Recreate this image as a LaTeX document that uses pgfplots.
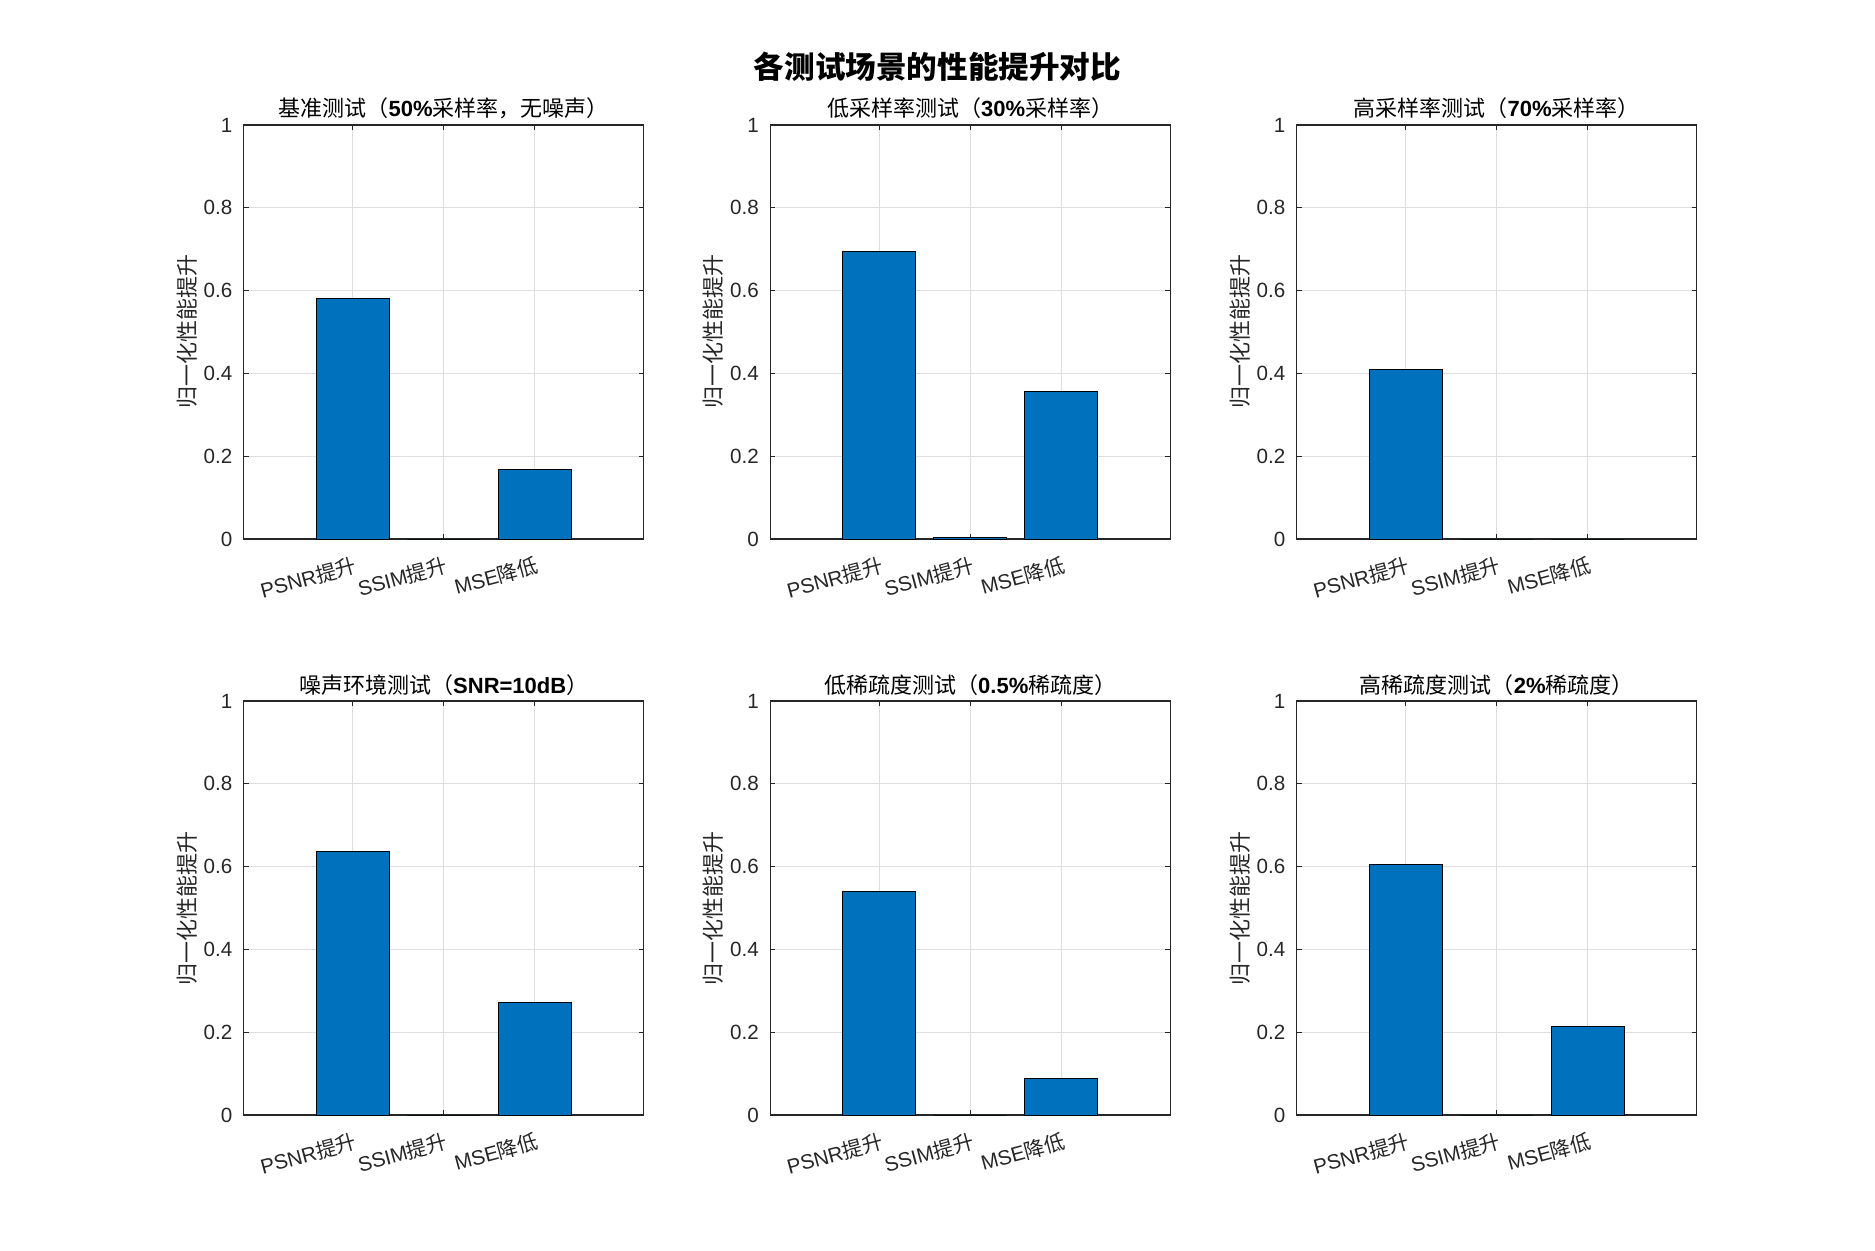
\documentclass[border=0pt]{standalone}
\usepackage{fontspec}
\setmainfont{Liberation Sans}
\newfontfamily\cjk{Noto Sans CJK SC}
\usepackage{pgfplots}
\pgfplotsset{compat=1.18}
\definecolor{matblue}{RGB}{0,114,189}
\definecolor{axgray}{RGB}{38,38,38}
\definecolor{gridgray}{RGB}{222,222,222}
\pgfplotsset{
  every axis title shift=0pt,
  sub/.style={
    scale only axis, width=200pt, height=207pt, anchor=south west,
    ybar, bar width=0.8,
    xmin=-0.2, xmax=4.2, ymin=0, ymax=1,
    xtick={1,2,3},
    xticklabels={{PSNR{\cjk 提升}},{SSIM{\cjk 提升}},{MSE{\cjk 降低}}},
    ytick={0,0.2,0.4,0.6,0.8,1},
    /pgf/number format/assume math mode=true,
    tick align=inside, tick pos=both,
    major tick length=2.5pt,
    tick style={axgray, line width=0.6pt},
    axis line style={axgray, line width=0.6pt},
    grid=major,
    major grid style={gridgray, line width=0.6pt},
    ticklabel style={font=\fontsize{10.3}{12}\selectfont, text=axgray},
    yticklabel style={xshift=-2.2pt},
    xticklabel style={yshift=-13pt, xshift=1.7pt, rotate=15, anchor=east, inner sep=0pt},
    ylabel={\cjk 归一化性能提升},
    ylabel style={at={(axis description cs:-0.142,0.5)}, anchor=center, font=\fontsize{11}{13}\selectfont, text=axgray},
    title style={at={(axis description cs:0.5,1)}, anchor=base, yshift=4pt, font=\fontsize{11}{13}\selectfont, text=black, inner sep=0pt},
  },
  bars/.style={fill=matblue, draw=black, line width=0.5pt},
}
\begin{document}
\begin{tikzpicture}
\path[use as bounding box] (0,0) rectangle (937.5pt,625pt);
\node[anchor=base, font=\fontsize{15.3}{18}\selectfont\cjk\bfseries] at (468.75pt,585.5pt) {各测试场景的性能提升对比};

\begin{axis}[sub, at={(121.875pt,355.5pt)},
  title={{\cjk 基准测试（}\textbf{50\%}{\cjk 采样率，无噪声）}}]
\addplot[bars] coordinates {(1,0.581) (2,0) (3,0.169)};
\end{axis}

\begin{axis}[sub, at={(385.125pt,355.5pt)},
  title={{\cjk 低采样率测试（}\textbf{30\%}{\cjk 采样率）}}]
\addplot[bars] coordinates {(1,0.694) (2,0.0026) (3,0.357)};
\end{axis}

\begin{axis}[sub, at={(648.375pt,355.5pt)},
  title={{\cjk 高采样率测试（}\textbf{70\%}{\cjk 采样率）}}]
\addplot[bars] coordinates {(1,0.410) (2,0) (3,0)};
\end{axis}

\begin{axis}[sub, at={(121.875pt,67.5pt)},
  title={{\cjk 噪声环境测试（}\textbf{SNR=10dB}{\cjk ）}}]
\addplot[bars] coordinates {(1,0.637) (2,0) (3,0.271)};
\end{axis}

\begin{axis}[sub, at={(385.125pt,67.5pt)},
  title={{\cjk 低稀疏度测试（}\textbf{0.5\%}{\cjk 稀疏度）}}]
\addplot[bars] coordinates {(1,0.539) (2,0) (3,0.088)};
\end{axis}

\begin{axis}[sub, at={(648.375pt,67.5pt)},
  title={{\cjk 高稀疏度测试（}\textbf{2\%}{\cjk 稀疏度）}}]
\addplot[bars] coordinates {(1,0.604) (2,0) (3,0.213)};
\end{axis}
\end{tikzpicture}
\end{document}
